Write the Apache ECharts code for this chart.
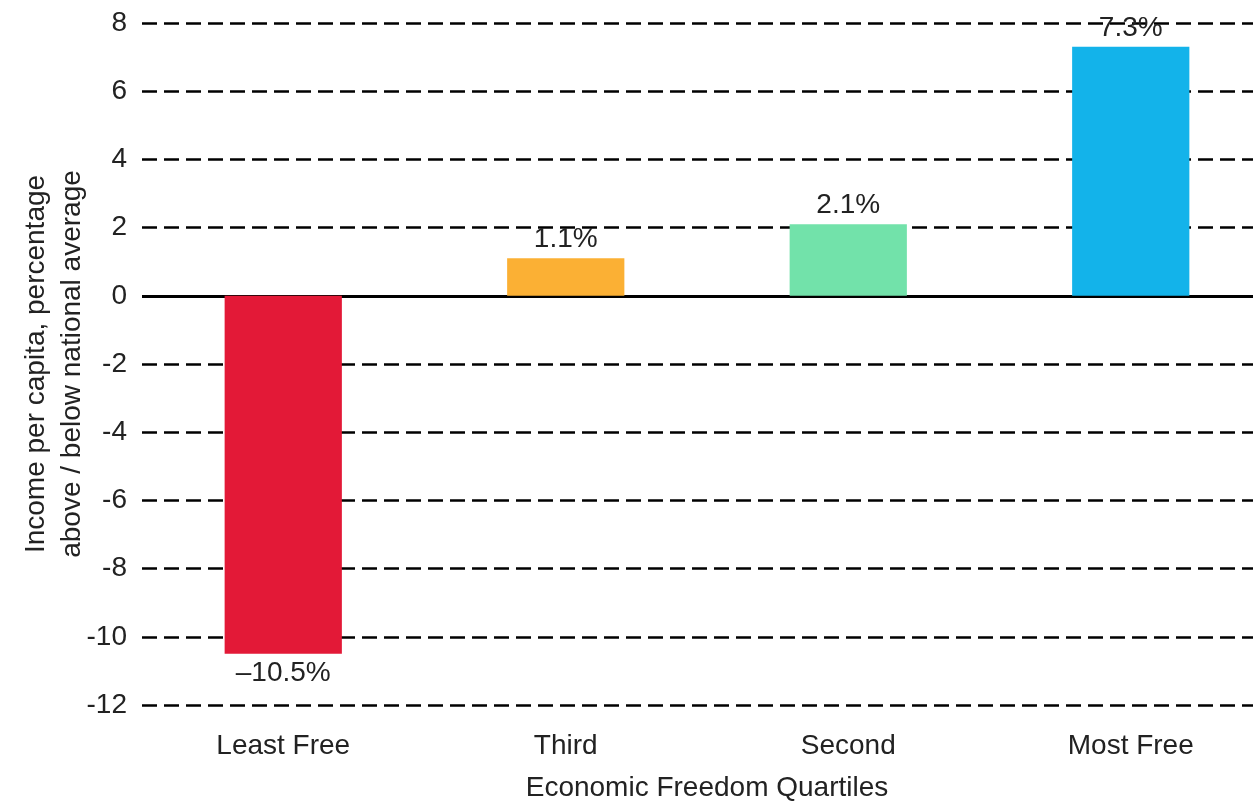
<!DOCTYPE html>
<html>
<head>
<meta charset="utf-8">
<script src="https://cdn.jsdelivr.net/npm/echarts@6/dist/echarts.min.js"></script>
<style>html,body{margin:0;padding:0;background:#fff}#c{width:1253px;height:802px}</style>
</head>
<body>
<div id="c"></div>
<script>
const categories = ['Least Free', 'Third', 'Second', 'Most Free'];
const values = [-10.5, 1.1, 2.1, 7.3];
const barColors = ['#E31937', '#FBB034', '#72E2AA', '#13B3EA'];
const yTicks = { min: -12, max: 8, interval: 2 };
const xTitle = 'Economic Freedom Quartiles';
const yTitle = 'Income per capita, percentage\nabove / below national average';

const FONT = 'Liberation Sans';
const FS = 28;
const chart = echarts.init(document.getElementById('c'));
chart.setOption({
  animation: false,
  textStyle: { fontFamily: FONT },
  grid: { left: 142, right: -19, top: 23, bottom: 97, containLabel: false, outerBoundsMode: 'none' },
  xAxis: {
    type: 'category',
    data: categories,
    axisLine: { show: false, onZero: false },
    axisTick: { show: false },
    axisLabel: { fontSize: FS, color: '#222', margin: 27, fontFamily: FONT },
    name: xTitle,
    nameLocation: 'middle',
    nameGap: 69,
    nameMoveOverlap: false,
    nameTextStyle: { fontSize: FS, color: '#222', fontFamily: FONT }
  },
  yAxis: {
    type: 'value',
    min: yTicks.min, max: yTicks.max, interval: yTicks.interval,
    axisLine: { show: false },
    axisTick: { show: false },
    axisLabel: { fontSize: FS, color: '#222', margin: 15, fontFamily: FONT },
    splitLine: { lineStyle: { color: '#000', width: 2.5, type: [15, 7] } },
    name: yTitle,
    nameLocation: 'middle',
    nameRotate: 90,
    nameGap: 52,
    nameMoveOverlap: false,
    nameTextStyle: { fontSize: FS, color: '#222', lineHeight: 36, align: 'center', fontFamily: FONT }
  },
  series: [{
    type: 'bar',
    barWidth: '41.5%',
    data: values.map((v, i) => ({ value: v, itemStyle: { color: barColors[i] },
      label: { position: v < 0 ? 'bottom' : 'top' } })),
    label: {
      show: true,
      fontSize: FS,
      color: '#222',
      distance: 5,
      fontFamily: FONT,
      formatter: p => (p.value < 0 ? '\u2013' + Math.abs(p.value) : String(p.value)) + '%'
    },
    markLine: {
      silent: true,
      symbol: 'none',
      z: 1,
      label: { show: false },
      lineStyle: { color: '#000', width: 3, type: 'solid' },
      data: [{ yAxis: 0 }]
    }
  }]
});
</script>
</body>
</html>
